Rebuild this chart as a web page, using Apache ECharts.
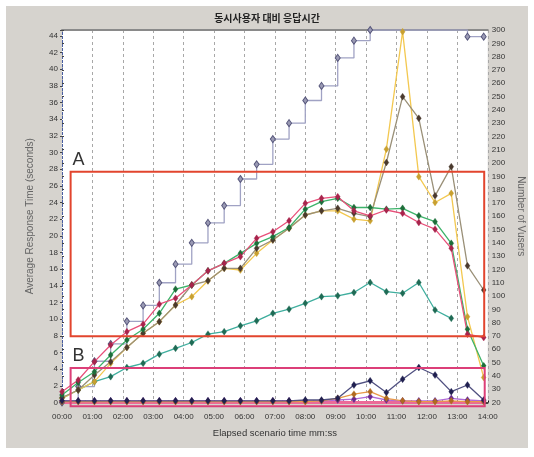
<!DOCTYPE html>
<html>
<head>
<meta charset="utf-8">
<script src="https://cdn.jsdelivr.net/npm/echarts@6/dist/echarts.min.js"></script>
<style>
  html, body { margin: 0; padding: 0; background: #ffffff; }
  #frame { position: absolute; left: 6px; top: 6px; width: 522px; height: 442px; background: #d6d3ce; }
  #chart { position: absolute; left: 0; top: 0; width: 534px; height: 457px; }
</style>
</head>
<body>
<div id="frame"></div>
<div id="chart"></div>
<script>
// Elapsed scenario time of each sample (seconds, 32 s granularity)
const elapsedSec = [0, 32, 64, 96, 128, 160, 192, 224, 256, 288, 320, 352, 384, 416,
  448, 480, 512, 544, 576, 608, 640, 672, 704, 736, 768, 800, 832];

// Average response time per transaction (seconds)
const txnPink = [1.3, 2.7, 4.9, 6.9, 8.5, 9.4, 11.8, 12.5, 14.1, 15.8, 16.7, 17.5, 19.7, 20.5,
  21.8, 23.9, 24.5, 24.7, 23.0, 22.4, 23.1, 22.7, 21.6, 20.8, 18.5, 8.2, 7.8];
const txnGreen = [0.9, 2.4, 3.7, 5.7, 7.5, 8.8, 10.7, 13.6, 14.1, 15.8, 16.7, 17.9, 19.1, 19.9,
  21.0, 23.2, 24.1, 24.5, 23.4, 23.4, 23.2, 23.3, 22.4, 21.7, 19.1, 8.8, 4.4];
const txnBrown = [0.6, 1.5, 3.3, 4.9, 6.6, 8.3, 9.7, 11.7, 14.1, 14.6, 16.1, 16.1, 18.5, 19.5,
  20.9, 22.5, 23.0, 23.3, 22.7, 22.3, 28.8, 36.7, 34.1, 24.8, 28.3, 16.4, 13.5];
const txnYellow = [0.5, 1.5, 2.5, 4.7, 6.6, 8.3, 9.7, 11.7, 12.7, 14.6, 16.1, 15.9, 17.9, 19.5,
  20.9, 22.5, 23.0, 23.0, 22.0, 21.8, 30.4, 44.5, 27.1, 24.0, 25.1, 10.3, 3.0];
const txnTeal = [0.5, 1.5, 2.5, 3.1, 4.2, 4.7, 5.8, 6.5, 7.2, 8.2, 8.5, 9.2, 9.8, 10.7,
  11.2, 11.9, 12.7, 12.8, 13.2, 14.4, 13.3, 13.1, 14.4, 11.1, 10.1, null, null];
const txnNavy = [0.2, 0.2, 0.2, 0.2, 0.2, 0.2, 0.2, 0.2, 0.2, 0.2, 0.2, 0.2, 0.2, 0.2,
  0.2, 0.3, 0.3, 0.5, 2.1, 2.6, 1.2, 2.8, 4.2, 3.3, 1.3, 2.1, 0.3];
const txnOrange = [0.1, 0.1, 0.1, 0.1, 0.1, 0.1, 0.1, 0.1, 0.1, 0.1, 0.1, 0.1, 0.1, 0.1,
  0.1, 0.1, 0.2, 0.5, 1.0, 1.3, 0.5, 0.2, 0.1, 0.1, 0.2, 0.1, 0.1];
const txnPurple = [0.2, 0.2, 0.2, 0.2, 0.2, 0.2, 0.2, 0.2, 0.2, 0.2, 0.2, 0.2, 0.2, 0.2,
  0.2, 0.2, 0.2, 0.3, 0.4, 0.7, 0.3, 0.2, 0.2, 0.2, 0.5, 0.3, 0.2];
const txnBase = [0, 0, 0, 0, 0, 0, 0, 0, 0, 0, 0, 0, 0, 0,
  0, 0, 0, 0, 0, 0, 0, 0, 0, 0, 0, 0, 0];

// Running Vusers (right axis); samples where the count did not change carry no marker
const runningVusers = [20, 32, 51, 64, 81, 93, 110, 124, 140, 155, 168, 188, 199, 218,
  230, 247, 258, 279, 292, 300, 300, 300, 300, 300, 300, 295, 295];

// Highlighted regions, in data units of the response-time axis
const regionA = { label: 'A', from: 17, to: 833, top: 27.7, bottom: 7.96, color: '#e2452e' };
const regionB = { label: 'B', from: 17, to: 834, top: 4.15, bottom: -0.45, color: '#dc3f78' };

const pairs = (vals) => elapsedSec.map((t, i) => [t, vals[i]]);

function mmss(sec) {
  const m = Math.floor(sec / 60);
  return (m < 10 ? '0' : '') + m + ':00';
}

const narrow = "'Liberation Sans Narrow', 'Liberation Sans', sans-serif";

function txnSeries(name, vals, line, marker, width) {
  return {
    name, type: 'line', xAxisIndex: 0, yAxisIndex: 0,
    data: pairs(vals),
    symbol: 'diamond', symbolSize: [5, 7], showSymbol: true,
    lineStyle: { color: line, width: width || 1.3 },
    itemStyle: { color: marker, borderColor: marker, borderWidth: 0.3 },
    emphasis: { disabled: true }, animation: false, z: 3
  };
}

const vuserData = elapsedSec.map((t, i) => {
  const same = i > 0 && i < elapsedSec.length - 2 && runningVusers[i] === runningVusers[i - 1];
  return same ? { value: [t, runningVusers[i]], symbol: 'none' } : [t, runningVusers[i]];
});

const chart = echarts.init(document.getElementById('chart'), null, { renderer: 'canvas' });

const option = {
  backgroundColor: 'transparent',
  animation: false,
  title: {
    text: '동시사용자 대비 응답시간',
    left: 'center', top: 8,
    textStyle: { fontFamily: "'Noto Sans CJK KR', sans-serif", fontSize: 10, fontWeight: 'bold', color: '#222' }
  },
  grid: {
    left: 62, right: 44.5, top: 30, bottom: 54.5,
    show: true, backgroundColor: '#ffffff', borderWidth: 0
  },
  xAxis: [{
    type: 'value', min: 0, max: 840, interval: 60,
    name: 'Elapsed scenario time mm:ss', nameLocation: 'middle', nameGap: 26,
    nameTextStyle: { fontFamily: narrow, fontSize: 9.5, color: '#333' },
    axisLine: { show: true, lineStyle: { color: '#111', width: 1.5 } },
    axisTick: { show: true, inside: true, length: 2, lineStyle: { color: '#111' } },
    minorTick: { show: true, splitNumber: 4, length: 2, lineStyle: { color: '#111' } },
    axisLabel: { formatter: mmss, fontFamily: narrow, fontSize: 8, color: '#333', margin: 10 },
    splitLine: { show: true, lineStyle: { color: '#a8a8a8', type: [3, 3], width: 1 } }
  }, {
    type: 'value', position: 'top', min: 0, max: 840,
    axisLine: { show: true, lineStyle: { color: '#8a8a8a', width: 2 } },
    axisTick: { show: false }, axisLabel: { show: false }, splitLine: { show: false }
  }],
  yAxis: [{
    type: 'value', min: 0, max: 44.7, interval: 2, position: 'left',
    name: 'Average Response Time (seconds)', nameLocation: 'middle', nameGap: 27, nameRotate: 90,
    nameTextStyle: { fontFamily: "'Liberation Sans', sans-serif", fontSize: 10, color: '#666' },
    axisLine: { show: true, lineStyle: { color: '#2a9a3a', width: 1, type: [2, 2] } },
    axisTick: { show: true, length: 2, lineStyle: { color: '#444' } },
    axisLabel: {
      fontFamily: narrow, fontSize: 8, color: '#333', margin: 4,
      formatter: (v) => (Math.abs(v - Math.round(v)) < 1e-6 && Math.round(v) % 2 === 0 ? String(Math.round(v)) : '')
    },
    splitLine: { show: false }
  }, {
    type: 'value', min: 20, max: 300, interval: 10, position: 'right',
    name: 'Number of Vusers', nameLocation: 'middle', nameGap: 26, nameRotate: -90,
    nameTextStyle: { fontFamily: "'Liberation Sans', sans-serif", fontSize: 10, color: '#666' },
    axisLine: { show: true, lineStyle: { color: '#4a5aa8', width: 1, type: [2, 2] } },
    axisTick: { show: true, length: 2, lineStyle: { color: '#444' } },
    axisLabel: { fontFamily: narrow, fontSize: 8, color: '#333', margin: 4 },
    splitLine: { show: false }
  }],
  series: [
    {
      name: 'Running Vusers', type: 'line', xAxisIndex: 0, yAxisIndex: 1,
      data: vuserData, step: 'end',
      symbol: 'diamond', symbolSize: [5, 7],
      lineStyle: { color: '#a0a2c4', width: 1.3 },
      itemStyle: { color: '#9a9ab4', borderColor: '#55557a', borderWidth: 1 },
      emphasis: { disabled: true }, z: 2
    },
    {
      name: 'base', type: 'line', xAxisIndex: 0, yAxisIndex: 0,
      data: pairs(txnBase), showSymbol: false,
      lineStyle: { color: '#ec6a98', width: 3 },
      emphasis: { disabled: true }, z: 2
    },
    txnSeries('teal', txnTeal, '#3fae9e', '#1f6b55'),
    txnSeries('yellow', txnYellow, '#f3c850', '#c8a030'),
    txnSeries('brown', txnBrown, '#9a9078', '#4a3a2e'),
    txnSeries('green', txnGreen, '#3db36a', '#1d6e3a'),
    txnSeries('pink', txnPink, '#e8507a', '#a8244c'),
    txnSeries('purple', txnPurple, '#b06ad8', '#6a2a90'),
    txnSeries('orange', txnOrange, '#e89a4a', '#b06a20'),
    txnSeries('navy', txnNavy, '#505080', '#202050')
  ]
};

chart.setOption(option);

// Outline the two highlighted regions from their data extents
function regionGraphics(r) {
  const p0 = chart.convertToPixel({ xAxisIndex: 0, yAxisIndex: 0 }, [r.from, r.top]);
  const p1 = chart.convertToPixel({ xAxisIndex: 0, yAxisIndex: 0 }, [r.to, r.bottom]);
  return [
    {
      type: 'rect', z: 20, silent: true,
      shape: { x: p0[0], y: p0[1], width: p1[0] - p0[0], height: p1[1] - p0[1] },
      style: { fill: null, stroke: r.color, lineWidth: 2 }
    },
    {
      type: 'text', z: 20, silent: true,
      x: p0[0] + 2, y: p0[1] - 3,
      style: { text: r.label, fill: '#333', font: "18px 'Liberation Sans Narrow', sans-serif", textVerticalAlign: 'bottom' }
    }
  ];
}

chart.setOption({ graphic: regionGraphics(regionA).concat(regionGraphics(regionB)) });
</script>
</body>
</html>
